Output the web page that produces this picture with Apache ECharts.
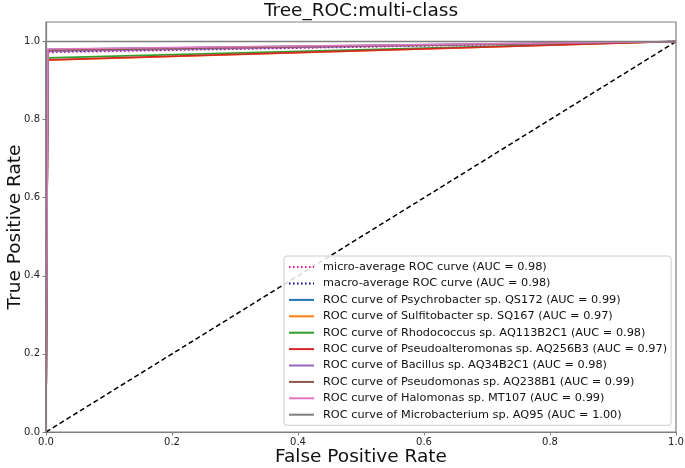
<!DOCTYPE html>
<html>
<head>
<meta charset="utf-8">
<script src="https://cdn.jsdelivr.net/npm/echarts@6/dist/echarts.min.js"></script>
<style>html,body{margin:0;padding:0;background:#fff}#c{width:685px;height:468px}</style>
</head>
<body>
<div id="c"></div>
<script>
// ---- data ----
const seriesNames = [
  'micro-average ROC curve (AUC = 0.98)',
  'macro-average ROC curve (AUC = 0.98)',
  'ROC curve of Psychrobacter sp. QS172 (AUC = 0.99)',
  'ROC curve of Sulfitobacter sp. SQ167 (AUC = 0.97)',
  'ROC curve of Rhodococcus sp. AQ113B2C1 (AUC = 0.98)',
  'ROC curve of Pseudoalteromonas sp. AQ256B3 (AUC = 0.97)',
  'ROC curve of Bacillus sp. AQ34B2C1 (AUC = 0.98)',
  'ROC curve of Pseudomonas sp. AQ238B1 (AUC = 0.99)',
  'ROC curve of Halomonas sp. MT107 (AUC = 0.99)',
  'ROC curve of Microbacterium sp. AQ95 (AUC = 1.00)'
];
const seriesColors = ['#ff1493','#000080','#1f77b4','#ff7f0e','#2ca02c','#d62728','#9467bd','#8c564b','#e377c2','#7f7f7f'];
const fprMicro = [0, 0.003, 1];
const tprMicro = [0, 0.972, 1];
const fprMacro = [0, 0.002, 0.003, 1];
const tprMacro = [0, 0.965, 0.974, 1];
const fprPsychrobacter = [0, 0.003, 1];
const tprPsychrobacter = [0, 0.980, 1];
const fprSulfitobacter = [0, 0.003, 1];
const tprSulfitobacter = [0, 0.952, 1];
const fprRhodococcus = [0, 0.003, 1];
const tprRhodococcus = [0, 0.958, 1];
const fprPseudoalteromonas = [0, 0.003, 1];
const tprPseudoalteromonas = [0, 0.953, 1];
const fprBacillus = [0, 0.003, 1];
const tprBacillus = [0, 0.975, 1];
const fprPseudomonas = [0, 0.003, 1];
const tprPseudomonas = [0, 0.978, 1];
const fprHalomonas = [0, 0.003, 1];
const tprHalomonas = [0, 0.981, 1];
const fprMicrobacterium = [0, 0, 1];
const tprMicrobacterium = [0, 1.0, 1];
const diagX = [0, 1];
const diagY = [0, 1];
const xTicks = [0, 0.2, 0.4, 0.6, 0.8, 1.0];
const yTicks = [0, 0.2, 0.4, 0.6, 0.8, 1.0];

const curves = [
  [fprMicro, tprMicro], [fprMacro, tprMacro],
  [fprPsychrobacter, tprPsychrobacter], [fprSulfitobacter, tprSulfitobacter],
  [fprRhodococcus, tprRhodococcus], [fprPseudoalteromonas, tprPseudoalteromonas],
  [fprBacillus, tprBacillus], [fprPseudomonas, tprPseudomonas],
  [fprHalomonas, tprHalomonas], [fprMicrobacterium, tprMicrobacterium]
];
const zip = (a, b) => a.map((v, i) => [v, b[i]]);

const FONT = 'DejaVu Sans';
const spine = '#808080';

const series = [{
  name: 'diag', type: 'line', data: zip(diagX, diagY), symbol: 'none', silent: true,
  lineStyle: { color: '#000', width: 1.5, type: [5, 3] }, z: 2
}];
curves.forEach((c, i) => {
  series.push({
    name: seriesNames[i], type: 'line', data: zip(c[0], c[1]), symbol: 'none', showSymbol: false,
    color: seriesColors[i],
    lineStyle: { color: seriesColors[i], width: 1.6, type: i < 2 ? [1.5, 2.5] : 'solid' },
    z: 3
  });
});

const chart = echarts.init(document.getElementById('c'), null, { renderer: 'canvas' });
chart.setOption({
  animation: false,
  backgroundColor: '#fff',
  textStyle: { fontFamily: FONT },
  grid: { left: 46, right: 9, top: 22, bottom: 36, show: true, borderColor: spine, borderWidth: 1.2,
          containLabel: false, outerBoundsMode: 'none' },
  graphic: [{
    type: 'text', x: 361, y: 11,
    style: { text: 'Tree_ROC:multi-class', font: '18.5px "DejaVu Sans"', fill: '#111', textAlign: 'center', textVerticalAlign: 'middle' }
  }],
  xAxis: {
    type: 'value', min: 0, max: 1, interval: 0.2,
    name: 'False Positive Rate', nameLocation: 'middle', nameGap: 16, nameMoveOverlap: false,
    nameTextStyle: { fontSize: 18.5, color: '#111', fontFamily: FONT },
    axisLine: { show: true, lineStyle: { color: spine, width: 1.2 } },
    axisTick: { show: true, length: 3.5, lineStyle: { color: spine }, customValues: xTicks },
    axisLabel: { fontSize: 10, color: '#222', margin: 5, customValues: xTicks, formatter: v => v.toFixed(1) },
    splitLine: { show: false }
  },
  yAxis: {
    type: 'value', min: 0, max: 1.05, interval: 0.2,
    name: 'True Positive Rate', nameLocation: 'middle', nameGap: 21, nameMoveOverlap: false,
    nameTextStyle: { fontSize: 18.5, color: '#111', fontFamily: FONT },
    axisLine: { show: true, lineStyle: { color: spine, width: 1.2 } },
    axisTick: { show: true, length: 3.5, lineStyle: { color: spine }, customValues: yTicks },
    axisLabel: { fontSize: 10, color: '#222', margin: 6, customValues: yTicks, formatter: v => v.toFixed(1) },
    splitLine: { show: false }
  },
  legend: {
    data: seriesNames,
    orient: 'vertical', left: 284, top: 256,
    padding: [5.5, 4, 5, 4],
    itemWidth: 25, itemHeight: 14, itemGap: 5.2,
    itemStyle: { opacity: 0, borderWidth: 0 },
    backgroundColor: 'rgba(255,255,255,0.85)', borderColor: '#cccccc', borderWidth: 1, borderRadius: 3,
    textStyle: { fontSize: 11.3, color: '#111', fontFamily: FONT, padding: [0, 0, 0, 4] },
    selectedMode: false
  },
  series: series
});
</script>
</body>
</html>
